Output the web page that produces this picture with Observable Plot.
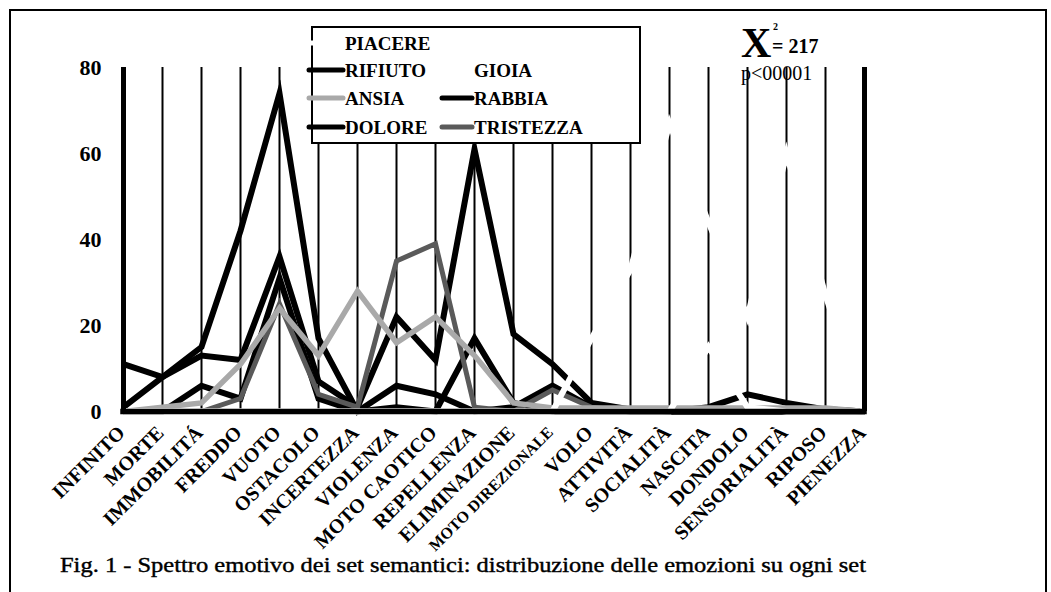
<!DOCTYPE html>
<html><head><meta charset="utf-8">
<script src="https://cdn.jsdelivr.net/npm/d3@7"></script>
<script src="https://cdn.jsdelivr.net/npm/@observablehq/plot@0.6"></script>
<style>body{margin:0;background:#fff} svg{display:block}</style>
</head><body><div id="chart"></div>
<script>
const categories = ["INFINITO","MORTE","IMMOBILITÁ","FREDDO","VUOTO","OSTACOLO","INCERTEZZA","VIOLENZA","MOTO CAOTICO","REPELLENZA","ELIMINAZIONE","MOTO DIREZIONALE","VOLO","ATTIVITÀ","SOCIALITÀ","NASCITA","DONDOLO","SENSORIALITÀ","RIPOSO","PIENEZZA"];
const yTicks = [0, 20, 40, 60, 80];

const piacere   = [0, 0, 0, 0, 0, 0, 0, 0, 0, 0, 0, 0, 17, 33, 67, 44, 22, 60, 27, 0];
const rifiuto   = [1, 8, 15, 42, 74, 17, 0, 6, 4, 0, 1, 6, 1, 0, 0, 1, 4, 2, 0.5, 0];
const ansia     = [0, 1, 2, 11, 24, 13, 28, 16, 22, 13, 2, 0.8, 0.8, 0.8, 0.8, 0.8, 0.8, 0.8, 0.8, 0];
const dolore    = [11, 8, 13, 12, 36, 7, 1, 22, 12, 61, 18, 11, 2, 0.5, 0, 0, 0, 0, 0, 0];
const gioia     = [0, 0, 0, 0, 0, 0, 0, 0, 0, 0, 0, 0, 0, 0, 0, 15, 1, 0, 0, 0];
const rabbia    = [0, 0, 6, 3, 31, 3, 0, 1, 0, 17, 2, 0, 0, 0, 0, 0, 0, 0, 0, 0];
const tristezza = [0, 0, 0, 3, 25, 4, 1, 35, 39, 1, 0, 5, 1, 0, 0, 0, 0, 0, 0, 0];

const legendCol1 = ["PIACERE", "RIFIUTO", "ANSIA", "DOLORE"];
const legendCol2 = ["GIOIA", "RABBIA", "TRISTEZZA"];
const statMain = "X";
const statSup = "2";
const statValue = "= 217";
const statP = "p<00001";
const caption = "Fig. 1 - Spettro emotivo dei set semantici: distribuzione delle emozioni su ogni set";

const serif = "'Liberation Serif','Times New Roman',serif";
const colors = {PIACERE:"#ffffff", RIFIUTO:"#000000", ANSIA:"#a9a9a9", DOLORE:"#000000", GIOIA:"#ffffff", RABBIA:"#000000", TRISTEZZA:"#5a5a5a"};

const toRows = vals => categories.map((c, i) => ({cat: c, v: vals[i]}));
const lineMark = (vals, name, w) => Plot.line(toRows(vals), {
  x: "cat", y: "v", stroke: colors[name], strokeWidth: w,
  strokeLinejoin: "miter", strokeMiterlimit: 12, strokeLinecap: "butt"
});

const svg = Plot.plot({
  width: 1051, height: 592,
  x: {type: "point", domain: categories, range: [117, 869], padding: 0, axis: null},
  y: {domain: [0, 80], range: [411, 67], axis: null},
  style: {background: "white", fontFamily: serif, color: "black"},
  marks: [
    Plot.ruleX(categories.slice(1, -1), {x: d => d, y1: 0, y2: 80, stroke: "black", strokeWidth: 2}),
    lineMark(rabbia, "RABBIA", 6),
    lineMark(rifiuto, "RIFIUTO", 6),
    lineMark(dolore, "DOLORE", 6),
    lineMark(tristezza, "TRISTEZZA", 5),
    lineMark(ansia, "ANSIA", 5.5),
    lineMark(gioia, "GIOIA", 6),
    lineMark(piacere, "PIACERE", 6),
    Plot.ruleY([0], {x1: () => categories[0], x2: () => categories[categories.length - 1], y: d => d, stroke: "black", strokeWidth: 5.5, strokeLinecap: "square"}),
    Plot.ruleX([categories[0], categories[categories.length - 1]], {x: d => d, y1: 0, y2: 80, stroke: "black", strokeWidth: 5}),
    Plot.text(yTicks, {x: () => categories[0], y: d => d, text: d => String(d), dx: -22, textAnchor: "end", fontSize: 22, fontWeight: "bold", fontFamily: serif}),
    Plot.text(categories, {x: d => d, y: () => 0, text: d => d, rotate: -45, textAnchor: "end", dx: -2, dy: 18,
      fontSize: d => d === "MOTO DIREZIONALE" ? 16 : 20, fontWeight: "bold", fontFamily: serif})
  ]
});
document.getElementById("chart").appendChild(svg);

const g = d3.select(svg).append("g").attr("text-anchor", "start");
// outer border
g.append("rect").attr("x", 10).attr("y", 10).attr("width", 1036).attr("height", 600)
  .attr("fill", "none").attr("stroke", "black").attr("stroke-width", 2);

// legend box
const lg = g.append("g").attr("font-family", serif).attr("font-weight", "bold").attr("font-size", 19);
lg.append("rect").attr("x", 312).attr("y", 27).attr("width", 328).attr("height", 116)
  .attr("fill", "white").attr("stroke", "black").attr("stroke-width", 2);
const rowY = [43, 70, 98, 127];
legendCol1.forEach((name, i) => {
  lg.append("line").attr("x1", 309).attr("x2", 343).attr("y1", rowY[i]).attr("y2", rowY[i])
    .attr("stroke", colors[name]).attr("stroke-width", 5).attr("stroke-linecap", "round");
  lg.append("text").attr("x", 345).attr("y", rowY[i]).attr("dy", "0.35em").text(name);
});
legendCol2.forEach((name, i) => {
  lg.append("line").attr("x1", 442).attr("x2", 472).attr("y1", rowY[i + 1]).attr("y2", rowY[i + 1])
    .attr("stroke", colors[name]).attr("stroke-width", 5).attr("stroke-linecap", "round");
  lg.append("text").attr("x", 474).attr("y", rowY[i + 1]).attr("dy", "0.35em").text(name);
});

// statistic annotation
const st = g.append("g").attr("font-family", serif).attr("font-weight", "bold");
st.append("text").attr("x", 741).attr("y", 57).attr("font-size", 42).text(statMain);
st.append("text").attr("x", 773).attr("y", 30).attr("font-size", 10).text(statSup);
st.append("text").attr("x", 772).attr("y", 53).attr("font-size", 20).text(statValue);
st.append("text").attr("x", 741).attr("y", 80).attr("font-size", 20).attr("font-weight", "normal").text(statP);

// caption
g.append("text").attr("x", 60).attr("y", 572).attr("font-family", serif).attr("font-size", 21)
  .attr("stroke", "black").attr("stroke-width", 0.4)
  .attr("textLength", 806).attr("lengthAdjust", "spacingAndGlyphs").text(caption);
</script>
</body></html>
